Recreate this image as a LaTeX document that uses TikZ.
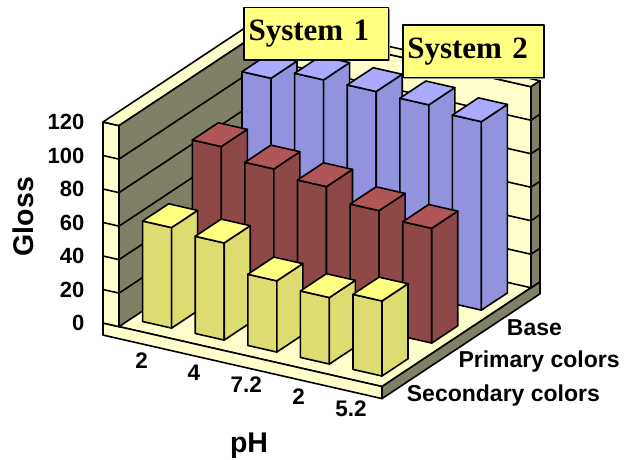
\documentclass[tikz,border=0pt]{standalone}
\usepackage{fontspec}
\setmainfont{Liberation Serif}
\setsansfont{Liberation Sans}
\definecolor{lyel}{RGB}{255,255,204}
\definecolor{olive}{RGB}{128,128,102}
\definecolor{ytop}{RGB}{255,255,128}
\definecolor{yside}{RGB}{220,220,112}
\definecolor{rtop}{RGB}{176,86,86}
\definecolor{rside}{RGB}{143,72,72}
\definecolor{btop}{RGB}{170,170,255}
\definecolor{bside}{RGB}{146,146,222}
\definecolor{boxfill}{RGB}{255,255,128}
\newcommand\chartbar[5]{%
  \filldraw[fill=#4] (#1,0,#2) -- (#1+29,0,#2) -- (#1+29,#3,#2) -- (#1,#3,#2) -- cycle;
  \filldraw[fill=#4] (#1+29,0,#2) -- (#1+29,0,#2+26) -- (#1+29,#3,#2+26) -- (#1+29,#3,#2) -- cycle;
  \filldraw[fill=#5] (#1,#3,#2) -- (#1+29,#3,#2) -- (#1+29,#3,#2+26) -- (#1,#3,#2+26) -- cycle;
}
\begin{document}
\begin{tikzpicture}[x=1pt,y=1pt,line join=round,
  ticklab/.style={font=\fontsize{22}{22}\selectfont\sffamily\bfseries, inner sep=0pt},
  catlab/.style={font=\fontsize{22.5}{22}\selectfont\sffamily\bfseries, inner sep=0pt},
  serlab/.style={font=\fontsize{23}{23}\selectfont\sffamily\bfseries, inner sep=0pt},
  axlab/.style={font=\fontsize{28.5}{28}\selectfont\sffamily\bfseries, inner sep=0pt},
  sysbox/.style={draw=black, line width=1.6pt, fill=boxfill, font=\fontsize{31}{31}\selectfont\rmfamily\bfseries, align=left, inner xsep=4.5pt, inner ysep=0pt, anchor=north west, minimum height=52.6pt}]
\useasboundingbox (0,0) rectangle (625,-459);
\begin{scope}[shift={(103pt,-323pt)}, x={(1pt,-0.2277pt)}, y={(0pt,1.675pt)}, z={(1pt,0.663pt)}, line width=1.6pt]
  % floor
  \filldraw[fill=lyel] (0,0,0) -- (279,0,0) -- (279,0,158) -- (0,0,158) -- cycle;
  \filldraw[fill=lyel] (0,-7.2,0) -- (279,-7.2,0) -- (279,0,0) -- (0,0,0) -- cycle;
  \filldraw[fill=olive] (279,-7.2,0) -- (279,-7.2,158) -- (279,0,158) -- (279,0,0) -- cycle;
  % left wall
  \filldraw[fill=lyel] (0,0,0) -- (16,0,0) -- (16,120,0) -- (0,120,0) -- cycle;
  \filldraw[fill=lyel] (0,120,0) -- (16,120,0) -- (16,120,158) -- (0,120,158) -- cycle;
  \filldraw[fill=olive] (16,0,0) -- (16,0,149) -- (16,120,149) -- (16,120,0) -- cycle;
  % back wall
  \filldraw[fill=lyel] (16,0,149) -- (279,0,149) -- (279,120,149) -- (16,120,149) -- cycle;
  \filldraw[fill=lyel] (16,120,149) -- (279,120,149) -- (279,120,158) -- (16,120,158) -- cycle;
  \filldraw[fill=olive] (279,0,149) -- (279,0,158) -- (279,120,158) -- (279,120,149) -- cycle;
  % grid lines
  \foreach \v in {20,40,...,100} {
    \draw (0,\v,0) -- (16,\v,0) -- (16,\v,149) -- (279,\v,149) -- (279,\v,158);
  }
  % bars: Base (blue)
  \foreach \h [count=\i from 0] in {109.8,116,116.2,115.4,112.5} {
    \pgfmathsetmacro\cc{27.8+52.6*\i}
    \chartbar{\cc}{111.2}{\h}{bside}{btop}
  }
  % Primary colors (red)
  \foreach \h [count=\i from 0] in {88.7,82.5,79.1,71.9,68.5} {
    \pgfmathsetmacro\cc{27.8+52.6*\i}
    \chartbar{\cc}{61.5}{\h}{rside}{rtop}
  }
  % Secondary colors (yellow)
  \foreach \h [count=\i from 0] in {60,58,42.5,39.7,44.8} {
    \pgfmathsetmacro\cc{27.8+52.6*\i}
    \chartbar{\cc}{11.8}{\h}{yside}{ytop}
  }
\end{scope}
% tick labels
\foreach \v [count=\k from 0] in {0,20,40,60,80,100,120} {
  \node[ticklab, anchor=base east] (tick\k) at (84.5,{-330.9+33.5*\k}) {\v};
}
% category labels
\foreach \t [count=\i from 0] in {2,4,7.2,2,5.2} {
  \node[catlab, anchor=base] (cat\i) at ({141.7+52.3*\i},{-368.3-12*\i}) {\t};
}
% series labels
\node[serlab, anchor=base west] (serbase) at (506.7,-335) {Base};
\node[serlab, anchor=base west] (serprim) at (458.3,-367) {Primary colors};
\node[serlab, anchor=base west] (sersec) at (406.7,-401.7) {Secondary colors};
% axis titles
\node[axlab, rotate=90] (gloss) at (23,-216.7) {Gloss};
\node[axlab, anchor=base] (ph) at (249,-452) {pH};
% system boxes
\fill[black!45] (245.3,-8.7) rectangle (389.7,-61.3);
\node[sysbox, text width=135.4pt] (sys1) at (243.3,-6.7) {System 1};
\fill[black!45] (404,-26) rectangle (545,-79);
\node[sysbox, text width=132pt] (sys2) at (402,-24) {System 2};
\end{tikzpicture}
\end{document}
